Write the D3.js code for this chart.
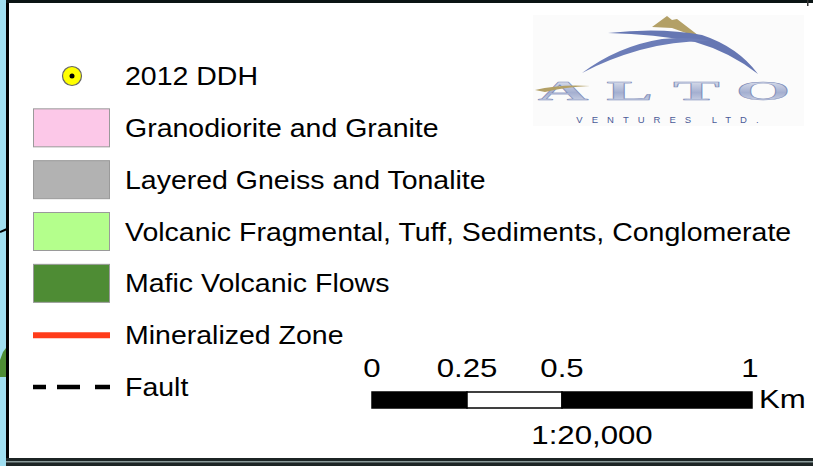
<!DOCTYPE html>
<html><head><meta charset="utf-8">
<script src="https://cdn.jsdelivr.net/npm/d3@7"></script>
<style>
html,body{margin:0;padding:0;background:#fff;}
svg{display:block;font-family:"Liberation Sans",Arial,sans-serif;}
</style></head>
<body>
<svg id="c" width="813" height="466"></svg>
<script>
// ---- data ----
const legendLabels = ["2012 DDH","Granodiorite and Granite","Layered Gneiss and Tonalite","Volcanic Fragmental, Tuff, Sediments, Conglomerate","Mafic Volcanic Flows","Mineralized Zone","Fault"];
const legendTypes  = ["point","box","box","box","box","line","dash"];
const legendColors = ["#ffff00","#fcc8e8","#b2b2b2","#b4ff8c","#4e8c34","#ff3c1a","#000000"];
const scaleTicks   = [0, 0.25, 0.5, 1];
const scaleTickLabels = ["0","0.25","0.5","1"];
const scaleSegStart = [0, 0.25, 0.5];
const scaleSegEnd   = [0.25, 0.5, 1];
const scaleSegFill  = ["#000","#fff","#000"];
const scaleUnit = "Km";
const scaleRatio = "1:20,000";
const logoWord = ["A","L","T","O"];
const logoSub = "VENTURES LTD.";

const svg = d3.select("#c");
function txt(sel, x, y, s, size, sx, anchor){
  return sel.append("text").attr("transform",`translate(${x},${y}) scale(${sx},1)`)
    .attr("text-anchor",anchor||"start").attr("font-size",size).attr("fill","#000").text(s);
}
// background map strip and frame
svg.append("rect").attr("x",0).attr("y",0).attr("width",813).attr("height",466).attr("fill","#fff");
svg.append("rect").attr("x",0).attr("y",0).attr("width",7).attr("height",466).attr("fill","#a0def0");
svg.append("path").attr("d","M0,372 L0,360 L3,352 L6,348 L7,348 L7,377 L0,377Z").attr("fill","#4e8c34");
svg.append("path").attr("d","M0,232 L7,229").attr("stroke","#000").attr("stroke-width",2);
svg.append("rect").attr("x",6).attr("y",0).attr("width",3).attr("height",462).attr("fill","#000");
svg.append("rect").attr("x",6).attr("y",0).attr("width",807).attr("height",3).attr("fill","#0a1414");
svg.append("rect").attr("x",6).attr("y",458).attr("width",807).attr("height",8).attr("fill","#1c2424");
svg.append("rect").attr("x",6).attr("y",461).attr("width",807).attr("height",1.5).attr("fill","#8a9a9a");
svg.append("rect").attr("x",807).attr("y",0).attr("width",1.5).attr("height",6).attr("fill","#333");

// ---- legend ----
const y = d3.scalePoint().domain(d3.range(legendLabels.length)).range([76, 387]);
const sx0 = 33, sx1 = 110;
const g = svg.append("g");
legendLabels.forEach((lab,i)=>{
  const cy = y(i);
  const t = legendTypes[i];
  if(t==="point"){
    g.append("circle").attr("cx",72).attr("cy",cy).attr("r",9.5).attr("fill",legendColors[i]).attr("stroke","#666").attr("stroke-width",1.2);
    g.append("circle").attr("cx",72).attr("cy",cy).attr("r",2.5).attr("fill","#000");
  } else if(t==="box"){
    g.append("rect").attr("x",sx0+0.5).attr("y",cy-19).attr("width",sx1-sx0-1).attr("height",38)
      .attr("fill",legendColors[i]).attr("stroke","#9a9a9a").attr("stroke-width",1);
  } else if(t==="line"){
    g.append("line").attr("x1",sx0).attr("x2",sx1).attr("y1",cy).attr("y2",cy).attr("stroke",legendColors[i]).attr("stroke-width",6);
  } else {
    g.append("line").attr("x1",sx0).attr("x2",sx1).attr("y1",cy).attr("y2",cy).attr("stroke",legendColors[i]).attr("stroke-width",4.5)
      .attr("stroke-dasharray","13 11 23 15 15");
  }
  txt(g, 125, cy+9, lab, 25, 1.14);
});

// ---- scale bar ----
const xs = d3.scaleLinear().domain([0,1]).range([372,752]);
const sb = svg.append("g");
scaleSegStart.forEach((s,i)=>{
  sb.append("rect").attr("x",xs(s)).attr("y",392).attr("width",xs(scaleSegEnd[i])-xs(s)).attr("height",16)
    .attr("fill",scaleSegFill[i]).attr("stroke","#000").attr("stroke-width",1.5);
});
scaleTicks.forEach((v,i)=>{
  txt(sb, xs(v)+(i===3?-2:0), 377, scaleTickLabels[i], 26, 1.2, "middle");
});
txt(sb, 759, 408, scaleUnit, 26, 1.2);
txt(sb, 592, 444, scaleRatio, 26, 1.2, "middle");

// ---- logo ----
const lg = svg.append("g");
lg.append("rect").attr("x",533).attr("y",15).attr("width",271).attr("height",111).attr("fill","#fbfbfb");
const defs = svg.append("defs");
const gr = defs.append("linearGradient").attr("id","metal").attr("x1",0).attr("y1",0).attr("x2",0).attr("y2",1);
gr.append("stop").attr("offset","0%").attr("stop-color","#eef0f6");
gr.append("stop").attr("offset","55%").attr("stop-color","#a4afd0");
gr.append("stop").attr("offset","100%").attr("stop-color","#dde2ee");
// gold peak
lg.append("path").attr("d","M652,27 L667,16 L672,20 L677,19 L707,42 L686,33 L672,28 Z").attr("fill","#b3a066");
// upper swoosh
lg.append("path").attr("d","M608,33 Q660,27 702,35 Q738,47 758,74 Q730,52 695,42 Q655,34 608,33 Z").attr("fill","#6677b3");
// lower arch
lg.append("path").attr("d","M582,73 Q618,46 662,39 Q690,36 710,41 Q672,41 640,50 Q608,59 582,73 Z").attr("fill","#6c7db8");
// ALTO word
const ax = d3.scalePoint().domain(logoWord).range([563,763]);
logoWord.forEach(ch=>{
  lg.append("text").attr("transform",`translate(${ax(ch)},100) scale(2.6,1)`).attr("text-anchor","middle")
    .attr("font-family","Liberation Serif, serif").attr("font-weight","bold").attr("font-size",27)
    .attr("fill","url(#metal)").attr("stroke","#7d8bb8").attr("stroke-width",0.4).text(ch);
});
lg.append("path").attr("d","M535,90 Q560,84 590,86 Q565,87 545,92 Z").attr("fill","#b3a066");
lg.append("text").attr("x",672).attr("y",123).attr("text-anchor","middle").attr("font-size",9.5)
  .attr("letter-spacing",9).attr("fill","#4a5a98").text(logoSub);
</script>
</body></html>
